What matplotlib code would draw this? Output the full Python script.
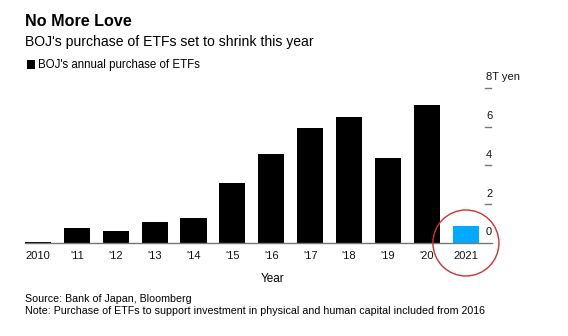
import matplotlib
matplotlib.use("Agg")
import matplotlib.pyplot as plt
from matplotlib.patches import Ellipse
import matplotlib.transforms as mtransforms

plt.rcParams['font.family'] = ['Liberation Sans', 'DejaVu Sans']

years = ["2010", "'11", "'12", "'13", "'14", "'15", "'16", "'17", "'18", "'19", "'20", "2021"]
purchases = [0.03, 0.79, 0.64, 1.07, 1.29, 3.08, 4.6, 5.93, 6.5, 4.38, 7.1, 0.87]
yticks = [0, 2, 4, 6, 8]
ytick_labels = ["0", "2", "4", "6", "8T yen"]

W, H = 568, 336
fig = plt.figure(figsize=(W / 100, H / 100), dpi=100)
fig.patch.set_facecolor('white')

def px(x, y):
    return x / W, 1 - y / H

ax_left, ax_right, ax_top, ax_bottom = 25, 492, 80, 243
ax = fig.add_axes([ax_left / W, 1 - ax_bottom / H, (ax_right - ax_left) / W, (ax_bottom - ax_top) / H])

colors = ['black'] * (len(years) - 1) + ['#00AAFF']
xs = list(range(len(years)))
ax.bar(xs, purchases, width=0.67, color=colors, edgecolor='none', zorder=2)

ax.set_xlim(-0.33, 11.67)
ax.set_ylim(0, (ax_bottom - ax_top) / 19.4)

for s in ['top', 'right', 'left']:
    ax.spines[s].set_visible(False)
ax.spines['bottom'].set_color('#777777')
ax.spines['bottom'].set_linewidth(1.0)
ax.spines['bottom'].set_zorder(3)

ax.set_xticks(xs)
ax.set_xticklabels(years, fontsize=8, color='#111111')
ax.tick_params(axis='x', length=0, pad=6)

ax.set_yticks([])
trans = mtransforms.blended_transform_factory(ax.transAxes, ax.transData)
xt = (486 - ax_left) / (ax_right - ax_left)
for v, lab in zip(yticks, ytick_labels):
    if v > 0:
        ax.plot([(485 - ax_left) / (ax_right - ax_left), (491 - ax_left) / (ax_right - ax_left)], [v, v],
                transform=trans, color='#777777', lw=1.0, clip_on=False)
    ax.annotate(lab, xy=(xt, v), xycoords=trans, xytext=(0, 4), textcoords='offset points',
                ha='left', va='bottom', fontsize=8, color='#111111')

# Highlight circle around 2021
circ = Ellipse((11, 0), width=66 / 38.9, height=66 / 19.4, transform=ax.transData,
               fill=False, edgecolor='#CC3333', lw=1.0, clip_on=False, zorder=4)
ax.add_patch(circ)

# Texts
fig.text(*px(25, 22), "No More Love", fontsize=11.6, fontweight='bold', ha='left', va='center')
fig.text(*px(25, 42), "BOJ's purchase of ETFs set to shrink this year", fontsize=10.1, ha='left', va='center')
fig.patches.append(plt.Rectangle(px(27, 69), 8 / W, 9 / H, transform=fig.transFigure,
                                 facecolor='black', edgecolor='none'))
fig.text(*px(38, 65), "BOJ's annual purchase of ETFs", fontsize=8.3, ha='left', va='center')
fig.text(*px(273, 279), "Year", fontsize=8.5, ha='center', va='center')
fig.text(*px(25, 299), "Source: Bank of Japan, Bloomberg", fontsize=7.7, ha='left', va='center')
fig.text(*px(25, 311), "Note: Purchase of ETFs to support investment in physical and human capital included from 2016",
         fontsize=7.68, ha='left', va='center')

fig.savefig("out.png", dpi=100, facecolor='white')
